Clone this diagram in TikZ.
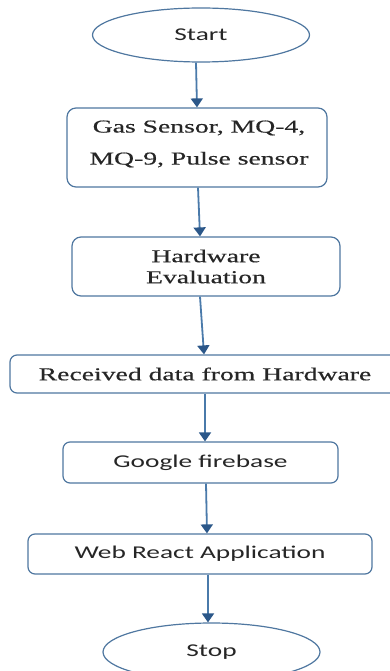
\documentclass[tikz,border=0pt]{standalone}
\usepackage{fontspec}
\usetikzlibrary{shapes.geometric,arrows.meta}
\newfontfamily\tnrfont[FakeStretch=1.52,FakeBold=0.4]{Liberation Serif}
\newfontfamily\calfont[FakeStretch=1.52]{Carlito}
\definecolor{bord}{HTML}{4F77A0}
\definecolor{arr}{HTML}{4A7AAA}
\definecolor{tip}{HTML}{2B5789}
\definecolor{txt}{HTML}{262626}
\begin{document}
\begin{tikzpicture}[x=1pt,y=-1pt,
  box/.style={draw=bord,line width=1.2pt,rounded corners=9pt,inner sep=0pt,fill=white},
  oval/.style={draw=bord,line width=1.2pt,ellipse,inner sep=0pt,fill=white},
  serif/.style={font=\tnrfont\fontsize{18.2}{21}\selectfont,align=center,text=txt},
  sans/.style={font=\calfont\fontsize{18}{21}\selectfont,align=center,text=txt},
  flow/.style={draw=arr,line width=1.8pt,-{Triangle[length=9pt,width=12pt,fill=tip,color=tip]}}]
\useasboundingbox (0,0) rectangle (390,671);
\node[oval,sans,minimum width=217pt,minimum height=54pt] (start) at (201,35) {Start};
\node[box,minimum width=260pt,minimum height=79pt] (b1) at (197,147.5) {};
\node[serif,font=\tnrfont\fontsize{18.2}{32}\selectfont] (t1) at (199,144) {Gas Sensor, MQ-4,\\MQ-9, Pulse sensor};
\node[box,serif,minimum width=268pt,minimum height=59pt] (b2) at (206,266.5) {Hardware\\Evaluation};
\node[box,serif,rounded corners=7pt,minimum width=390pt,minimum height=38pt] (b3) at (205,374) {Received data from Hardware};
\node[box,sans,rounded corners=7pt,minimum width=275pt,minimum height=41pt] (b4) at (200.5,462.5) {Google firebase};
\node[box,sans,rounded corners=7pt,minimum width=344pt,minimum height=40pt] (b5) at (200,554) {Web React Application};
\node[oval,sans,minimum width=217pt,minimum height=58pt] (stop) at (211.5,652) {Stop};
\draw[flow] ([xshift=-5pt]start.south) -- (b1.north);
\draw[flow] ([xshift=1pt]b1.south) -- ([xshift=-6pt]b2.north);
\draw[flow] ([xshift=-6pt]b2.south) -- ([xshift=-1pt]b3.north);
\draw[flow] (b3.south) -- ([xshift=4.5pt]b4.north);
\draw[flow] ([xshift=5.5pt]b4.south) -- ([xshift=7pt]b5.north);
\draw[flow] ([xshift=8pt]b5.south) -- ([xshift=-3.5pt]stop.north);
\end{tikzpicture}
\end{document}
